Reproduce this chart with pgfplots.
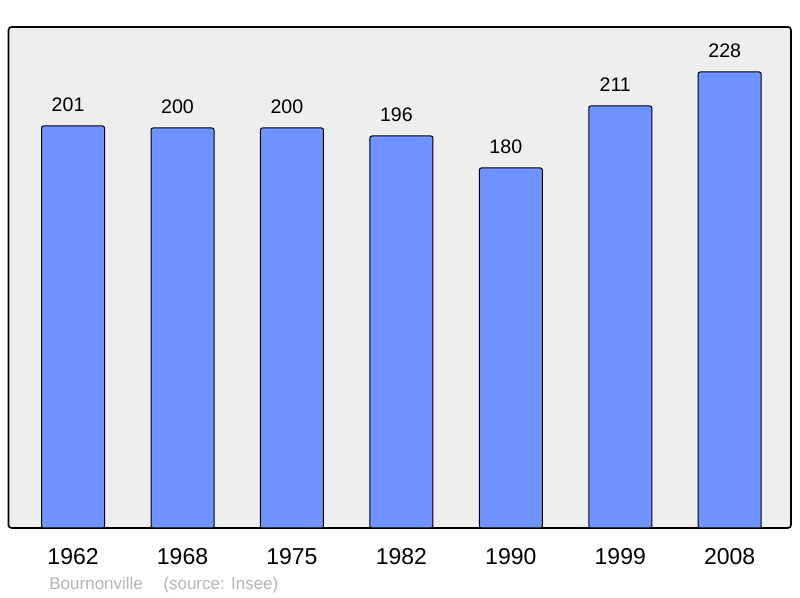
\documentclass[border=0pt]{standalone}
\usepackage{pgfplots}
\pgfplotsset{compat=1.18}
\usepackage{fontspec}
\setmainfont{Liberation Sans}
\definecolor{barblue}{RGB}{112,148,255}
\definecolor{bggray}{RGB}{238,238,238}
\definecolor{footgray}{RGB}{180,180,180}

\begin{document}
\begin{tikzpicture}
\useasboundingbox (0,0) rectangle (400pt,299pt);
\begin{axis}[
  at={(4.25pt,35pt)}, anchor=south west,
  scale only axis,
  width=391.25pt, height=250.5pt,
  xmin=-0.59, xmax=6.56,
  ymin=0, ymax=250.5,
  ybar, bar width=31.5pt,
  xtick=data,
  xticklabels={1962,1968,1975,1982,1990,1999,2008},
  xticklabel style={font=\fontsize{11.5pt}{13pt}\selectfont, anchor=base, yshift=-18.5pt},
  major tick length=0pt,
  ytick=\empty,
  axis background/.style={fill=bggray, rounded corners=1.5pt},
  axis line style={line width=0.8pt, rounded corners=1.5pt},
  /pgf/number format/assume math mode=true,
  nodes near coords,
  every node near coord/.style={font=\fontsize{9.8pt}{11pt}\selectfont, anchor=base, yshift=7pt, xshift=-2.5pt, inner sep=0pt},
  clip=false,
]
\addplot[fill=barblue, draw=black, line width=0.5pt, rounded corners=1pt] coordinates {
  (0,201) (1,200) (2,200) (3,196) (4,180) (5,211) (6,228)
};
\end{axis}
\node[anchor=base west, inner sep=0pt, text=footgray, font=\fontsize{8.5pt}{10pt}\selectfont] at (24.5pt,4.2pt) {Bournonville};
\node[anchor=base west, inner sep=0pt, text=footgray, font=\fontsize{8.5pt}{10pt}\selectfont] at (81.5pt,4.2pt) {(source: Insee)};
\end{tikzpicture}
\end{document}
